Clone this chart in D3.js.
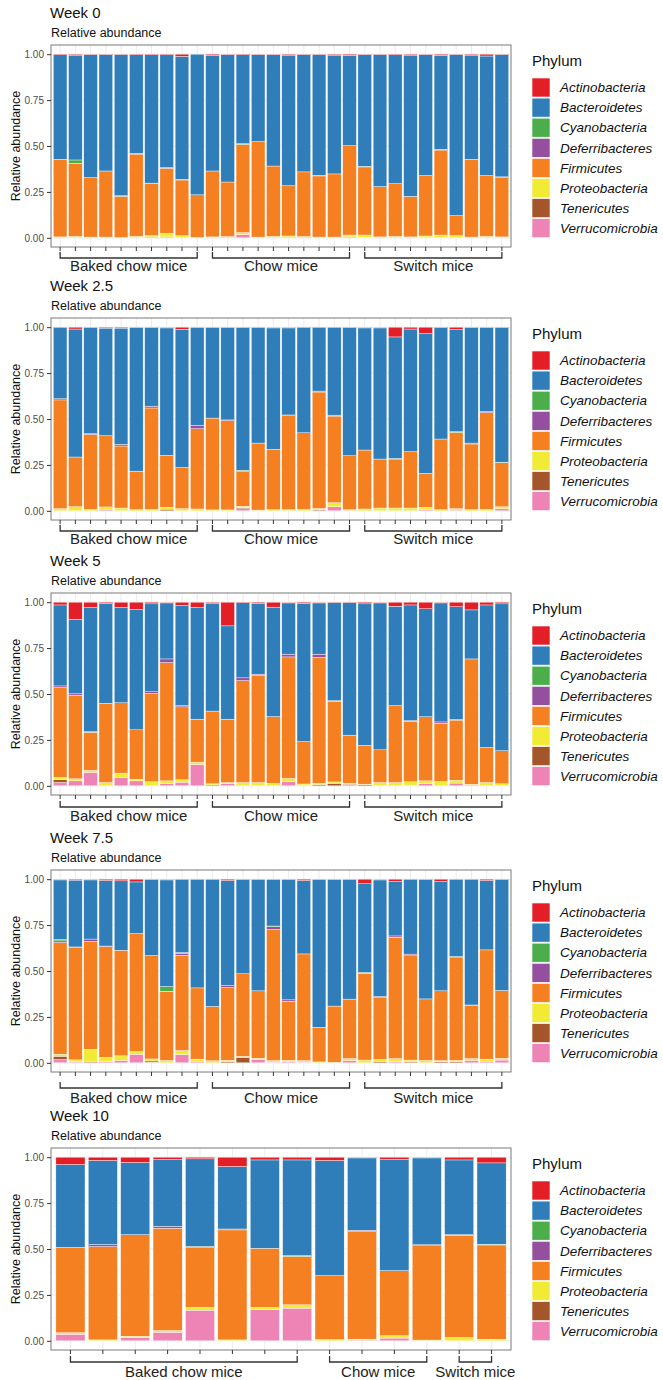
<!DOCTYPE html>
<html>
<head>
<meta charset="utf-8">
<script src="https://cdn.jsdelivr.net/npm/d3@7"></script>
<style>
  body { margin: 0; background: #fff; }
  svg { display: block; }
  text { font-family: "Liberation Sans", Arial, Helvetica, sans-serif; }
</style>
</head>
<body>
<svg id="chart" width="663" height="1380"></svg>
<script>
// ---- categories and labels ----
const phyla = ["Actinobacteria", "Bacteroidetes", "Cyanobacteria", "Deferribacteres",
               "Firmicutes", "Proteobacteria", "Tenericutes", "Verrucomicrobia"];
const phylumColors = ["#E41E26", "#2F7EBA", "#4BAE4B", "#944F9E",
                      "#F58022", "#F2EB35", "#A4552A", "#EE84B6"];
const weeks = ["Week 0", "Week 2.5", "Week 5", "Week 7.5", "Week 10"];
const groupNames = ["Baked chow mice", "Chow mice", "Switch mice"];
const groupSizes = [[10, 10, 10], [10, 10, 10], [10, 10, 10], [10, 10, 10], [8, 4, 2]];
const yTicks = [0, 0.25, 0.5, 0.75, 1];
const yTickLabels = ["0.00", "0.25", "0.50", "0.75", "1.00"];
const yMinorTicks = [0.125, 0.375, 0.625, 0.875];

// ---- relative abundance per mouse; one row per week ----
const actinobacteria = [
  [.003,.005,.002,.002,.002,.003,.003,.003,.012,0, .007,.002,.003,.002,.002,.005,.002,.002,.005,.006, .002,.002,.003,.005,.002,.006,.002,.005,.010,.002],
  [.003,.010,.002,.005,.005,.002,.002,.004,.011,.002, .002,.002,.002,.002,.004,.004,.003,.003,.003,.002, .004,.004,.053,.010,.035,.002,.013,.002,.002,.002],
  [.015,.093,.029,.007,.029,.040,.009,.004,.018,.029, .005,.129,.003,.007,.027,.004,.007,.004,.002,.002, .009,.004,.022,.015,.036,.004,.025,.042,.015,.009],
  [.004,.005,.004,.007,.009,.015,.002,.004,.003,.003, .003,.007,.002,.002,.002,.002,.007,.002,.002,.002, .025,.004,.013,.003,.002,.013,.003,.003,.007,.002],
  [.040,.018,.029,.013,.009,.051,.015,.015, .018,.004,.013,.004, .015,.031]
];
const bacteroidetes = [
  [.569,.571,.670,.634,.769,.537,.699,.614,.670,.766, .629,.694,.484,.474,.607,.711,.639,.658,.647,.492, .609,.719,.702,.769,.659,.512,.877,.567,.651,.666],
  [.387,.697,.578,.586,.633,.782,.428,.694,.753,.533, .493,.503,.777,.629,.661,.474,.572,.345,.476,.698, .665,.714,.662,.668,.761,.607,.556,.629,.457,.733],
  [.441,.406,.676,.543,.519,.655,.479,.305,.545,.608, .588,.508,.409,.385,.596,.279,.752,.279,.534,.722, .771,.800,.541,.630,.588,.648,.614,.267,.776,.800],
  [.325,.364,.322,.357,.378,.281,.414,.581,.397,.589, .690,.572,.513,.606,.253,.655,.400,.804,.689,.651, .483,.635,.296,.405,.650,.595,.418,.682,.378,.604],
  [.451,.458,.393,.363,.477,.340,.481,.521, .627,.394,.605,.473, .407,.443]
];
const cyanobacteria = [
  [0,.018,0,0,.003,0,.003,0,.003,0, 0,0,.004,0,0,0,0,.003,0,0, .003,0,0,0,0,0,0,0,0,.004],
  [0,0,0,0,0,0,0,0,0,0, 0,0,.008,0,0,0,0,0,0,0, 0,0,.003,0,0,0,.004,0,0,.003],
  [0,0,.003,0,0,0,0,0,0,0, 0,0,0,0,0,0,0,0,.003,0, 0,0,0,0,0,0,.003,0,0,0],
  [.007,0,0,0,0,0,0,.025,.003,0, 0,0,0,0,.004,0,0,0,0,0, .004,0,0,0,0,0,.007,.003,0,0],
  [0,0,0,0,.007,0,0,.004, 0,0,0,0, 0,.004]
];
const deferribacteres = [
  [0,0,0,0,0,.004,0,.004,0,0, 0,0,0,0,0,0,0,0,0,0, 0,0,0,0,0,.004,0,0,0,0],
  [.006,0,.004,0,.009,0,.010,0,0,.018, 0,.004,0,0,0,.004,0,.005,.005,0, 0,0,0,0,0,0,0,.005,.006,0],
  [.009,.007,0,0,0,0,.009,.020,.007,0, 0,0,.015,.007,0,.015,0,.018,0,0, 0,0,0,.003,0,.007,0,0,0,0],
  [.009,.003,.013,.003,0,0,0,0,.011,0, 0,.011,0,0,.015,.007,0,0,0,0, 0,.003,.007,.009,0,0,0,0,0,0],
  [0,.011,0,.011,0,.005,0,0, 0,.007,0,.005, .003,0]
];
const firmicutes = [
  [.423,.398,.324,.360,.224,.448,.283,.354,.303,.232, .359,.297,.481,.520,.383,.274,.352,.333,.344,.487, .371,.274,.287,.221,.329,.463,.109,.424,.331,.323],
  [.592,.271,.408,.388,.338,.210,.552,.283,.224,.437, .500,.486,.188,.365,.329,.512,.417,.634,.472,.294, .321,.267,.267,.307,.185,.385,.415,.358,.527,.240],
  [.489,.456,.208,.432,.383,.269,.481,.644,.397,.234, .396,.345,.555,.583,.364,.662,.231,.685,.440,.262, .211,.178,.419,.330,.349,.317,.328,.683,.191,.180],
  [.608,.612,.587,.604,.575,.642,.563,.377,.519,.388, .296,.396,.450,.367,.714,.322,.581,.189,.306,.324, .473,.340,.661,.568,.335,.380,.559,.289,.595,.369],
  [.465,.508,.553,.557,.325,.599,.322,.264, .348,.586,.354,.514, .557,.513]
];
const proteobacteria = [
  [.005,.008,.004,.004,.002,.008,.007,.020,.012,.002, .005,.003,.010,.004,.008,.006,.003,.004,.004,.010, .012,.005,.008,.005,.010,.015,.012,.004,.008,.005],
  [.012,.022,.008,.012,.015,.006,.008,.010,.012,.010, .005,.005,.008,.004,.006,.004,.008,.008,.022,.003, .010,.015,.015,.015,.011,.006,.008,.006,.008,.011],
  [.013,.011,.011,.018,.025,.009,.022,.016,.013,.013, .006,.007,.018,.018,.013,.016,.010,.007,.007,.004, .003,.018,.018,.018,.016,.024,.015,.004,.018,.011],
  [.011,.011,.069,.022,.025,.015,.011,.013,.022,.011, .011,.007,.005,.007,.008,.006,.008,.005,.003,.010, .015,.010,.016,.010,.013,.006,.006,.010,.011,.010],
  [.008,.005,.007,.009,.015,.005,.013,.018, .007,.005,.013,.004, .018,.009]
];
const tenericutes = [
  [0,0,0,0,0,0,0,0,0,0, 0,.004,0,0,0,.004,.004,0,0,0, 0,0,0,0,0,0,0,0,0,0],
  [0,0,0,0,0,0,0,.009,0,0, 0,0,.005,0,0,.002,0,.005,0,.003, 0,0,0,0,0,0,.004,0,0,0],
  [.015,0,0,0,0,0,0,0,0,0, .005,0,0,0,0,0,0,.007,.014,.003, .006,0,0,0,0,0,0,.004,0,0],
  [.018,0,.005,0,0,0,.007,0,0,0, 0,.007,.030,0,0,0,0,0,0,0, 0,.008,0,.005,0,.006,.007,0,0,0],
  [0,0,0,0,0,0,0,0, 0,.004,0,0, 0,0]
];
const verrucomicrobia = [
  [0,0,0,0,0,0,.005,.005,0,0, 0,0,.018,0,0,0,0,0,0,.005, .003,0,0,0,0,0,0,0,0,0],
  [0,0,0,.009,0,0,0,0,0,0, 0,0,.012,0,0,0,0,0,.022,0, 0,0,0,0,.008,0,0,0,0,.011],
  [.018,.027,.073,0,.044,.027,0,.011,.020,.116, 0,.011,0,0,0,.024,0,0,0,.007, 0,0,0,.004,.011,0,.015,0,0,0],
  [.018,.005,0,.007,.013,.047,.003,0,.045,.009, 0,0,0,.018,.004,.008,.004,0,0,.013, 0,0,.007,0,0,0,0,.013,.009,.015],
  [.036,0,.018,.047,.167,0,.169,.178, 0,0,.015,0, 0,0]
];

const seriesByPhylum = {
  Actinobacteria: actinobacteria, Bacteroidetes: bacteroidetes, Cyanobacteria: cyanobacteria,
  Deferribacteres: deferribacteres, Firmicutes: firmicutes, Proteobacteria: proteobacteria,
  Tenericutes: tenericutes, Verrucomicrobia: verrucomicrobia
};

// ---- layout ----
const svg = d3.select("#chart");
const panelLeft = 51, panelRight = 511, panelH = 202;
const panelTops = [45, 318, 593, 870, 1148];
const bracketGap = [11, 11, 12, 16, 12];
const bracketLabelGap = [13, 13, 14, 15, 15];
const legendX = 532;

const color = d3.scaleOrdinal().domain(phyla).range(phylumColors);
// first legend entry sits on top of each bar
const stack = d3.stack().keys(phyla.slice().reverse());

weeks.forEach((week, w) => {
  const top = panelTops[w], bottom = top + panelH;
  const n = actinobacteria[w].length;
  const samples = d3.range(n);
  const rows = samples.map(i => {
    const r = { sample: i };
    phyla.forEach(p => { r[p] = seriesByPhylum[p][w][i]; });
    return r;
  });

  const x = d3.scaleBand().domain(samples).range([panelLeft, panelRight])
    .paddingInner(0.1).paddingOuter(0.15);
  const pad = panelH * 0.05 / 1.1;
  const y = d3.scaleLinear().domain([0, 1]).range([bottom - pad, top + pad]);
  const g = svg.append("g");

  // panel background and grid
  g.append("rect").attr("x", panelLeft).attr("y", top)
    .attr("width", panelRight - panelLeft).attr("height", panelH).attr("fill", "#fff");
  g.selectAll(".gminor").data(yMinorTicks).join("line")
    .attr("x1", panelLeft).attr("x2", panelRight)
    .attr("y1", d => y(d)).attr("y2", d => y(d))
    .attr("stroke", "#EBEBEB").attr("stroke-width", 0.5);
  g.selectAll(".gmajor").data(yTicks).join("line")
    .attr("x1", panelLeft).attr("x2", panelRight)
    .attr("y1", d => y(d)).attr("y2", d => y(d))
    .attr("stroke", "#EBEBEB").attr("stroke-width", 1);
  g.selectAll(".gx").data(samples).join("line")
    .attr("x1", d => x(d) + x.bandwidth() / 2).attr("x2", d => x(d) + x.bandwidth() / 2)
    .attr("y1", top).attr("y2", bottom)
    .attr("stroke", "#EBEBEB").attr("stroke-width", 1);

  // stacked bars
  const layers = stack(rows);
  g.selectAll(".layer").data(layers).join("g")
    .attr("fill", d => color(d.key))
    .selectAll("rect").data(d => d.filter(s => s[1] - s[0] > 0)).join("rect")
    .attr("x", d => x(d.data.sample))
    .attr("width", x.bandwidth())
    .attr("y", d => y(d[1]))
    .attr("height", d => y(d[0]) - y(d[1]))
    .attr("stroke", "#fff").attr("stroke-width", 0.4);

  // panel border
  g.append("rect").attr("x", panelLeft).attr("y", top)
    .attr("width", panelRight - panelLeft).attr("height", panelH)
    .attr("fill", "none").attr("stroke", "#7a7a7a").attr("stroke-width", 1);

  // axes
  const yAxis = d3.axisLeft(y).tickValues(yTicks)
    .tickFormat((d, i) => yTickLabels[i]).tickSize(4).tickPadding(3);
  const ya = g.append("g").attr("transform", `translate(${panelLeft},0)`).call(yAxis);
  ya.select(".domain").remove();
  ya.selectAll("line").attr("stroke", "#333");
  ya.selectAll("text").attr("fill", "#4D4D4D").attr("font-size", 10)
    .attr("font-family", "Liberation Sans, Arial, sans-serif");

  const xAxis = d3.axisBottom(x).tickFormat("").tickSize(4);
  const xa = g.append("g").attr("transform", `translate(0,${bottom})`).call(xAxis);
  xa.select(".domain").remove();
  xa.selectAll("line").attr("stroke", "#333");

  // titles
  g.append("text").attr("x", 50).attr("y", top - 27)
    .attr("font-size", 15).attr("fill", "#111").text(week);
  g.append("text").attr("x", 51).attr("y", top - 8)
    .attr("font-size", 12.5).attr("fill", "#111").text("Relative abundance");
  g.append("text")
    .attr("transform", `translate(20,${(top + bottom) / 2}) rotate(-90)`)
    .attr("text-anchor", "middle").attr("font-size", 12.5).attr("fill", "#111")
    .text("Relative abundance");

  // legend
  const lg = g.append("g");
  lg.append("text").attr("x", legendX).attr("y", top + 21)
    .attr("font-size", 15).attr("fill", "#111").text("Phylum");
  const items = lg.selectAll(".item").data(phyla).join("g")
    .attr("transform", (d, i) => `translate(${legendX},${top + 33 + i * 20.1})`);
  items.append("rect").attr("width", 18).attr("height", 19)
    .attr("fill", d => color(d)).attr("stroke", "#fff").attr("stroke-width", 0.6);
  items.append("text").attr("x", 28).attr("y", 9.5).attr("dy", "0.35em")
    .attr("font-size", 13.5).attr("font-style", "italic").attr("fill", "#111")
    .text(d => d);

  // group brackets under the x axis
  const by = bottom + bracketGap[w];
  let start = 0;
  groupSizes[w].forEach((size, k) => {
    const x1 = x(start) + x.bandwidth() / 2;
    const x2 = x(start + size - 1) + x.bandwidth() / 2;
    g.append("path")
      .attr("d", `M${x1},${by - 6}V${by}H${x2}V${by - 6}`)
      .attr("fill", "none").attr("stroke", "#333").attr("stroke-width", 1.3);
    g.append("text").attr("x", (x1 + x2) / 2).attr("y", by + bracketLabelGap[w])
      .attr("text-anchor", "middle").attr("font-size", 15)
      .attr("font-family", "Lato, 'Open Sans', sans-serif").attr("fill", "#222")
      .text(groupNames[k]);
    start += size;
  });
});
</script>
</body>
</html>
